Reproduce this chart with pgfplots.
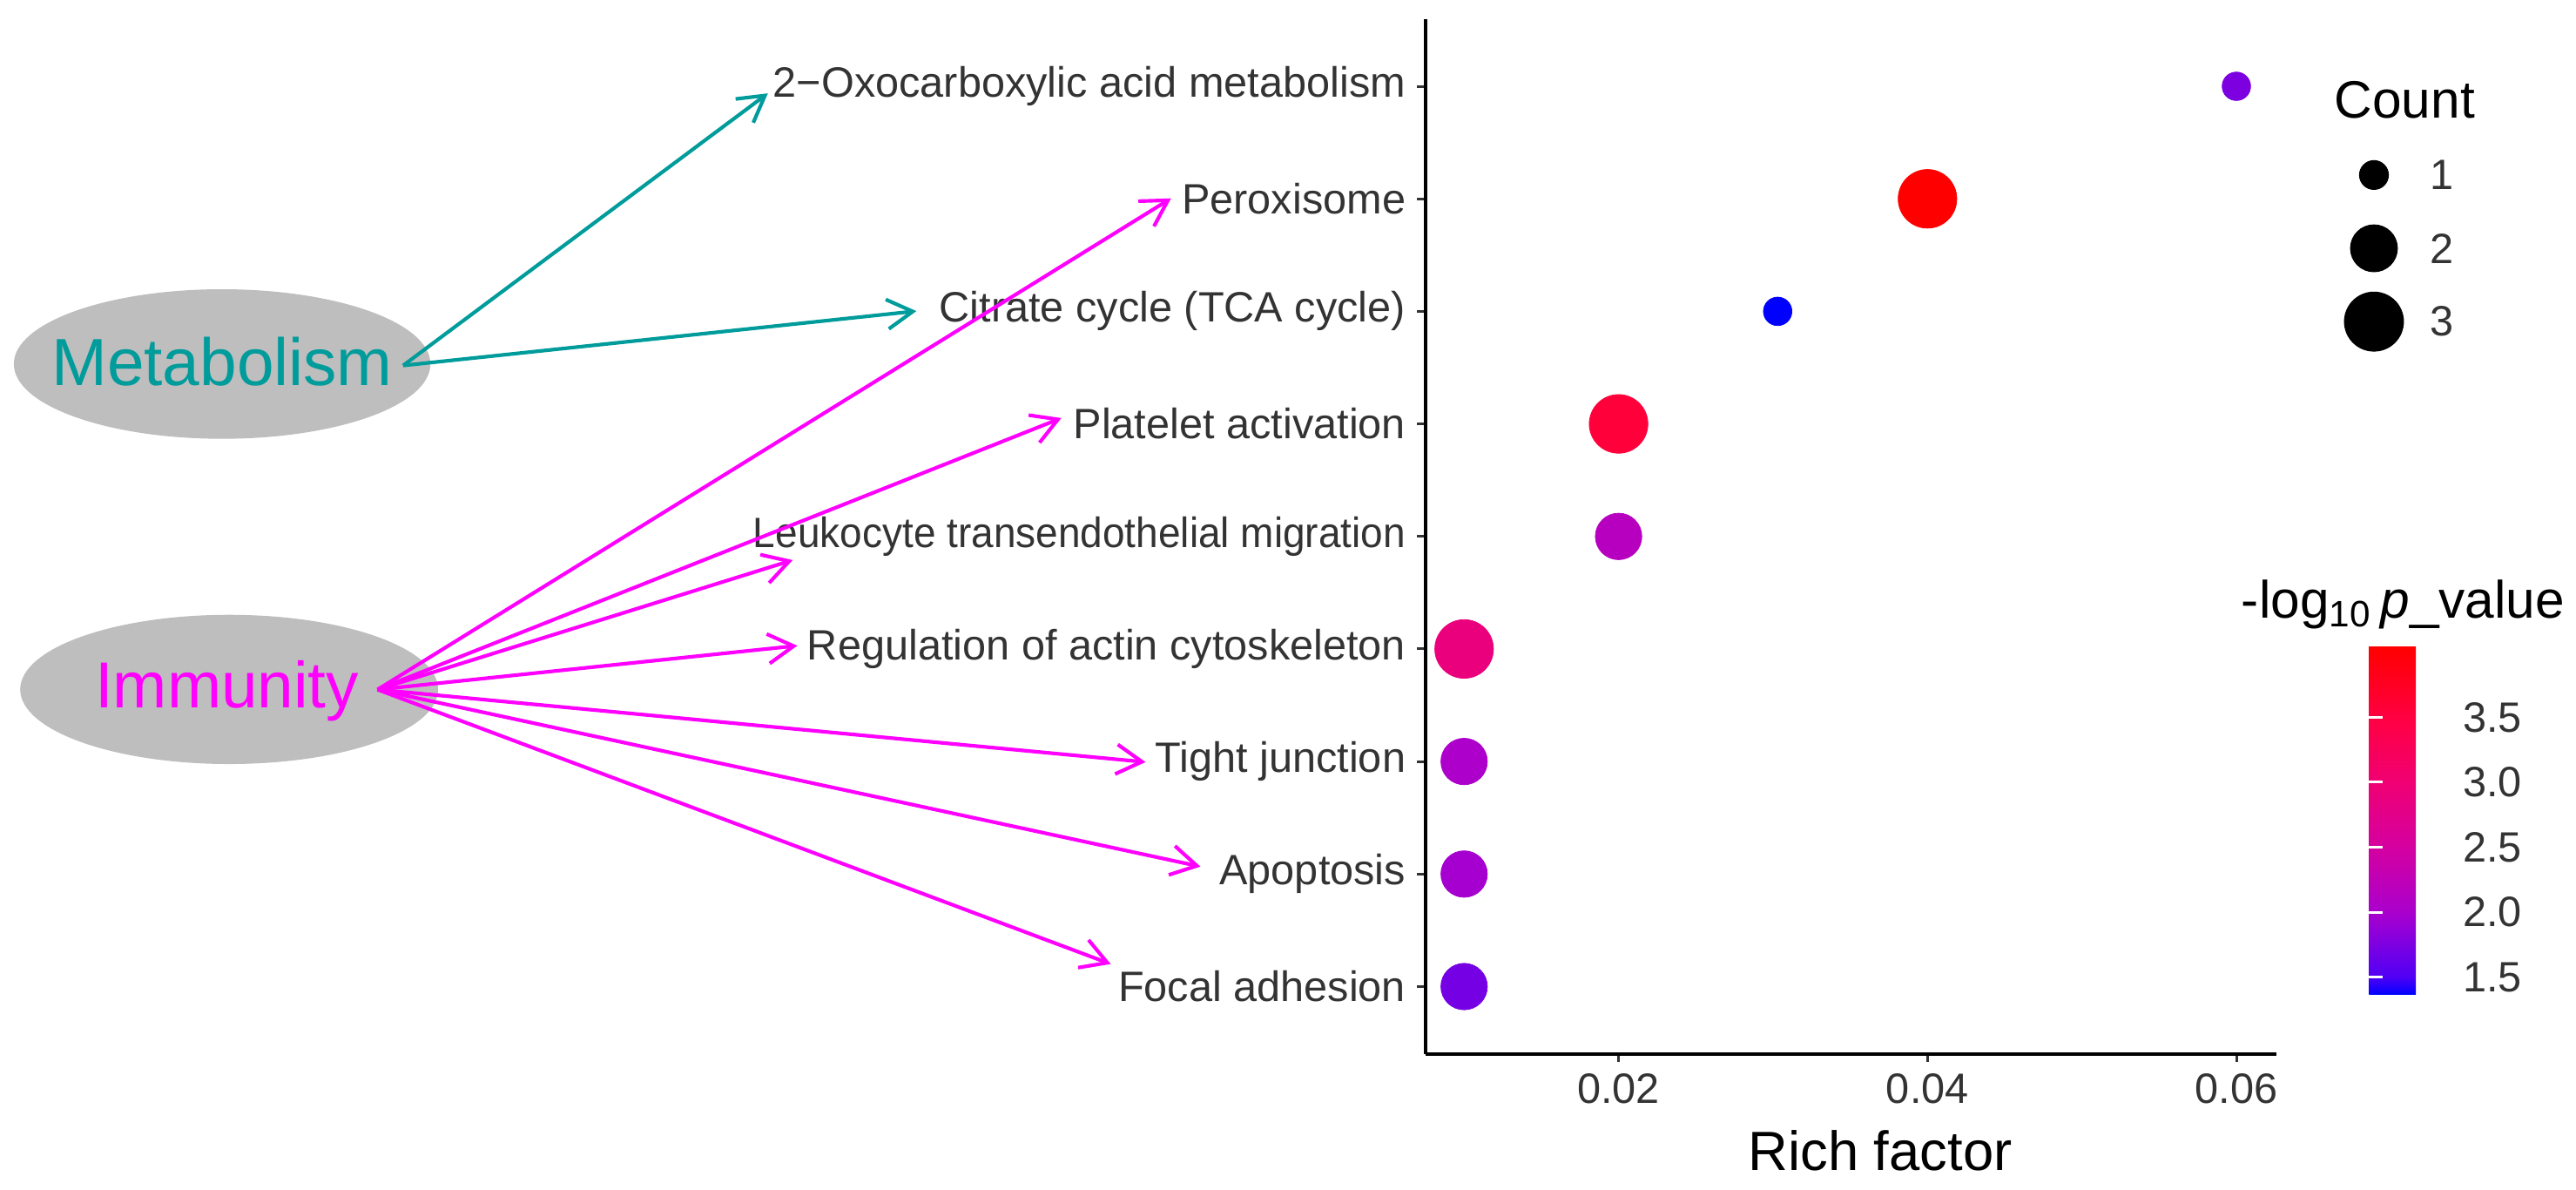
\documentclass[border=0pt]{standalone}
\usepackage{fontspec}
\setmainfont{Liberation Sans}
\usepackage{pgfplots}
\pgfplotsset{compat=1.18}
\usepackage{pgfplotstable}
\usetikzlibrary{arrows.meta}

\definecolor{tealc}{RGB}{0,155,155}
\definecolor{magc}{RGB}{255,0,255}
\definecolor{ellgray}{RGB}{190,190,190}
\definecolor{labc}{RGB}{51,51,51}

\pgfplotsset{
  colormap={gg}{
    rgb255(1.368cm)=(0,0,255)
    rgb255(1.5cm)=(80,0,245)
    rgb255(2.0cm)=(170,0,205)
    rgb255(2.5cm)=(212,0,160)
    rgb255(3.0cm)=(240,0,115)
    rgb255(3.5cm)=(255,0,65)
    rgb255(4.049cm)=(255,0,0)
  }
}

% idx: 1 = Focal adhesion (bottom) ... 9 = 2-Oxocarboxylic acid metabolism (top)
\pgfplotstableread{
idx rf     cnt logp
1   0.01   2   1.71
2   0.01   2   1.97
3   0.01   2   2.03
4   0.01   3   2.90
5   0.02   2   2.15
6   0.02   3   3.55
7   0.0303 1   1.368
8   0.04   3   4.049
9   0.06   1   1.75
}\enrich

\begin{document}
\begin{tikzpicture}
\path[use as bounding box] (0,0) rectangle (784pt,362pt);

\begin{axis}[
  at={(433.85pt,41.3pt)}, anchor=south west,
  scale only axis, width=259pt, height=315pt,
  xmin=0.0075, xmax=0.0626, ymin=0.4, ymax=9.6,
  axis x line*=bottom, axis y line*=left,
  axis line style={line width=1.1pt, black, -},
  scaled x ticks=false,
  xtick={0.02,0.04,0.06}, xticklabels={0.02,0.04,0.06},
  ytick={1,2,3,4,5,6,7,8,9},
  yticklabels={Focal adhesion,Apoptosis,Tight junction,Regulation of actin cytoskeleton,\scalebox{0.945}[1]{Leukocyte transendothelial migration},Platelet activation,Citrate cycle (TCA cycle),Peroxisome,2−Oxocarboxylic acid metabolism},
  tick align=outside, major tick length=2.5pt,
  tick style={line width=0.8pt, color=labc},
  ticklabel style={font=\fontsize{12.9}{14}\selectfont, text=labc},
  /pgf/number format/assume math mode=true,
  xlabel={Rich factor},
  xlabel style={font=\fontsize{16.8}{19}\selectfont, at={(axis description cs:0.5,0)}, anchor=base, yshift=-35.3pt, xshift=8.9pt},
  clip=false,
  colormap name=gg, point meta min=1.368, point meta max=4.049,
  colorbar,
  colorbar style={
    at={(parent axis.south east)}, anchor=south west, xshift=19.65pt, yshift=18.2pt,
    scale only axis, width=21pt, height=106pt,
    ytick={1.5,2,2.5,3,3.5}, yticklabels={1.5,2.0,2.5,3.0,3.5},
    ytick pos=both, yticklabel pos=right,
    tick align=inside, major tick length=4pt,
    tick style={white, line width=0.8pt},
    axis line style={draw=none},
    yticklabel style={font=\fontsize{12.9}{14}\selectfont, text=labc, inner sep=0pt, xshift=7.3pt, anchor=west},
  },
]
\addplot[scatter, only marks, mark=*, point meta=explicit,
  scatter/use mapped color={draw=mapped color, fill=mapped color},
  mark options={line width=0.2pt},
  visualization depends on={\thisrow{cnt} \as \mycnt},
  scatter/@pre marker code/.append style={/tikz/mark size={(\mycnt==1)*4.33+(\mycnt==2)*7.07+(\mycnt==3)*8.92}}]
  table[x=rf, y=idx, meta=logp] {\enrich};
\end{axis}

% size legend
\begin{axis}[
  at={(722.5pt,286.45pt)}, anchor=center,
  scale only axis, width=10pt, height=44.6pt,
  xmin=-1, xmax=1, ymin=1, ymax=3, y dir=reverse, clip=false,
  axis line style={draw=none}, xtick=\empty,
  ytick={1,2,3}, yticklabels={1,2,3}, yticklabel pos=right, major tick length=0pt,
  yticklabel style={font=\fontsize{12.9}{14}\selectfont, text=labc, anchor=west, inner sep=0pt, xshift=12pt},
]
\addplot[only marks, mark=*, black, mark size=4.33pt] coordinates {(0,1)};
\addplot[only marks, mark=*, black, mark size=7.07pt] coordinates {(0,2)};
\addplot[only marks, mark=*, black, mark size=8.92pt] coordinates {(0,3)};
\end{axis}

\node[anchor=base west, font=\fontsize{16}{19}\selectfont, inner sep=0pt] at (710.3pt,326.2pt) {Count};
\node[anchor=base west, font=\fontsize{16}{19}\selectfont, inner sep=0pt] at (682pt,174pt) {-log\textsubscript{10}\,\textit{p}\_value};

% ellipses
\fill[ellgray] (67.6pt,251.25pt) ellipse [x radius=63.4pt, y radius=22.75pt];
\fill[ellgray] (69.75pt,152.25pt) ellipse [x radius=63.6pt, y radius=22.7pt];
\node[anchor=base, text=tealc, font=\fontsize{20.3}{23}\selectfont, inner sep=0pt] at (67.6pt,244.85pt) {Metabolism};
\node[anchor=base, text=magc, font=\fontsize{19.8}{23}\selectfont, inner sep=0pt] at (69.05pt,146.75pt) {Immunity};

% arrows
\begin{scope}[line width=1.1pt, -{Straight Barb[length=7.8pt,width=9pt]}]
\draw[tealc] (122.7pt,250.8pt) -- (233.7pt,333.6pt);
\draw[tealc] (122.7pt,250.8pt) -- (278.9pt,267.35pt);
\draw[magc] (114.9pt,152.2pt) -- (356.4pt,301.65pt);
\draw[magc] (114.9pt,152.2pt) -- (323pt,234.8pt);
\draw[magc] (114.9pt,152.2pt) -- (241.25pt,191.6pt);
\draw[magc] (114.9pt,152.2pt) -- (242.65pt,165.55pt);
\draw[magc] (114.9pt,152.2pt) -- (348.65pt,130.15pt);
\draw[magc] (114.9pt,152.2pt) -- (365.35pt,98.35pt);
\draw[magc] (114.9pt,152.2pt) -- (338.05pt,68.7pt);
\end{scope}
\end{tikzpicture}
\end{document}
